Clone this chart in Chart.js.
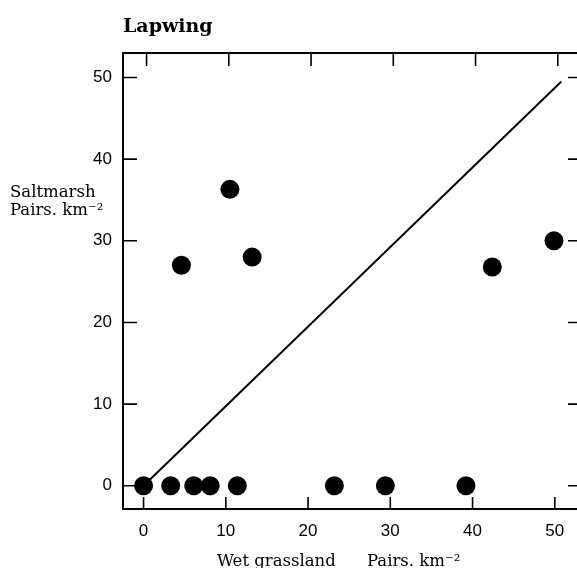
<!DOCTYPE html>
<html>
<head>
<meta charset="utf-8">
<script src="https://cdn.jsdelivr.net/npm/chart.js@4.4.1/dist/chart.umd.min.js"></script>
<style>
  html, body { margin: 0; padding: 0; background: #fff; }
  #wrap { width: 577px; height: 568px; }
</style>
</head>
<body>
<div id="wrap"><canvas id="chart" width="577" height="568"></canvas></div>
<script>
// data
const wetGrass  = [0, 3.3, 6.1, 8.1, 11.4, 23.2, 29.4, 39.2, 4.6, 10.5, 13.2, 42.4, 49.9];
const saltmarsh = [0, 0,   0,   0,   0,    0,    0,    0,    27.0, 36.3, 28.0, 26.8, 30.0];
const fitX = [0, 50.8];
const fitY = [0, 49.5];
const xTicks = [0, 10, 20, 30, 40, 50];
const yTicks = [0, 10, 20, 30, 40, 50];

const TITLE      = "Lapwing";
const X_TITLE_A  = "Wet grassland";
const X_TITLE_B  = "Pairs. km⁻²";
const Y_TITLE    = ["Saltmarsh", "Pairs. km⁻²"];

const SERIF = "'DejaVu Serif', serif";
const SANS  = "'Liberation Sans', Arial, sans-serif";

// inward tick marks on all four sides, titles drawn as text
const framePlugin = {
  id: "frame",
  afterDraw(chart) {
    const ctx = chart.ctx;
    const { left, right, top, bottom } = chart.chartArea;
    const xs = chart.scales.x, ys = chart.scales.y;
    ctx.save();
    ctx.strokeStyle = "#000";
    ctx.lineWidth = 2;
    // top border (no right border in the original)
    ctx.beginPath();
    ctx.moveTo(left, top);
    ctx.lineTo(right, top);
    ctx.stroke();
    ctx.lineWidth = 1.6;
    ctx.beginPath();
    xTicks.forEach(v => {
      const px = xs.getPixelForValue(v);
      ctx.moveTo(px, bottom); ctx.lineTo(px, bottom - 12);
      ctx.moveTo(px + 3, top); ctx.lineTo(px + 3, top + 13);
    });
    yTicks.forEach(v => {
      const py = ys.getPixelForValue(v);
      ctx.moveTo(left, py); ctx.lineTo(left + 14, py);
      ctx.moveTo(right, py); ctx.lineTo(right - 9, py);
    });
    ctx.stroke();

    ctx.fillStyle = "#000";
    ctx.textBaseline = "alphabetic";
    ctx.textAlign = "left";
    ctx.font = "bold 19px " + SERIF;
    ctx.fillText(TITLE, 123, 32);
    ctx.font = "16.5px " + SERIF;
    ctx.fillText(X_TITLE_A, 217, 566);
    ctx.fillText(X_TITLE_B, 367, 566);
    ctx.fillText(Y_TITLE[0], 10, 197);
    ctx.fillText(Y_TITLE[1], 10, 215);
    ctx.restore();
  },
};

const points = wetGrass.map((x, i) => ({ x, y: saltmarsh[i] }));
const fitLine = fitX.map((x, i) => ({ x, y: fitY[i] }));

new Chart(document.getElementById("chart"), {
  type: "scatter",
  data: {
    datasets: [
      {
        type: "line",
        data: fitLine,
        borderColor: "#000",
        borderWidth: 2,
        pointRadius: 0,
        fill: false,
        order: 2,
      },
      {
        data: points,
        backgroundColor: "#000",
        borderColor: "#000",
        pointRadius: 9.5,
        borderWidth: 0,
        order: 1,
      },
    ],
  },
  options: {
    responsive: false,
    animation: false,
    layout: { autoPadding: false, padding: { top: 53, left: 0, right: 0, bottom: 0 } },
    plugins: {
      legend: { display: false },
      tooltip: { enabled: false },
    },
    scales: {
      x: {
        type: "linear",
        min: -2.5,
        max: 52.7,
        afterBuildTicks: (s) => { s.ticks = xTicks.map(v => ({ value: v })); },
        afterFit: (s) => { s.height = 59; s.paddingLeft = 0; s.paddingRight = 0; },
        grid: { display: false, drawTicks: false },
        border: { display: true, color: "#000", width: 2 },
        ticks: { color: "#000", font: { family: SANS, size: 17 }, padding: 12, maxRotation: 0 },
      },
      y: {
        type: "linear",
        min: -2.85,
        max: 53,
        afterBuildTicks: (s) => { s.ticks = yTicks.map(v => ({ value: v })); },
        afterFit: (s) => { s.width = 123; s.paddingTop = 0; s.paddingBottom = 0; },
        grid: { display: false, drawTicks: false },
        border: { display: true, color: "#000", width: 2 },
        ticks: { color: "#000", font: { family: SANS, size: 17 }, padding: 11 },
      },
    },
  },
  plugins: [framePlugin],
});
</script>
</body>
</html>
